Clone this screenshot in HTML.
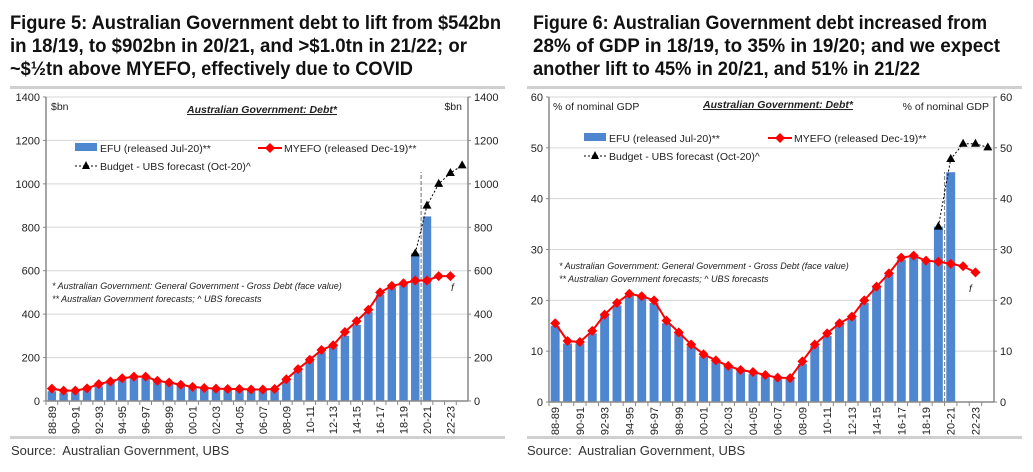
<!DOCTYPE html>
<html><head><meta charset="utf-8">
<style>
body{margin:0;width:1033px;height:472px;background:#fff;overflow:hidden;font-family:"Liberation Sans",sans-serif}
.src{position:absolute;font-size:13px;color:#333}
svg{position:absolute;left:0;top:0}
</style></head><body>
<div class="src" style="left:11px;top:443px">Source:&nbsp; Australian Government, UBS</div>
<div class="src" style="left:527px;top:443px">Source:&nbsp; Australian Government, UBS</div>
<svg id="s" width="1033" height="472" xmlns="http://www.w3.org/2000/svg">
<g font-family="Liberation Sans, sans-serif" font-weight="bold" font-size="19" fill="#111">
<text x="10" y="29" textLength="491" lengthAdjust="spacingAndGlyphs">Figure 5: Australian Government debt to lift from $542bn</text>
<text x="10" y="52" textLength="457" lengthAdjust="spacingAndGlyphs">in 18/19, to $902bn in 20/21, and &gt;$1.0tn in 21/22; or</text>
<text x="10" y="75" textLength="403" lengthAdjust="spacingAndGlyphs">~$½tn above MYEFO, effectively due to COVID</text>
</g>
<g font-family="Liberation Sans, sans-serif" font-weight="bold" font-size="19" fill="#111">
<text x="533" y="29" textLength="454" lengthAdjust="spacingAndGlyphs">Figure 6: Australian Government debt increased from</text>
<text x="533" y="52" textLength="467" lengthAdjust="spacingAndGlyphs">28% of GDP in 18/19, to 35% in 19/20; and we expect</text>
<text x="533" y="75" textLength="387" lengthAdjust="spacingAndGlyphs">another lift to 45% in 20/21, and 51% in 21/22</text>
</g>
</svg>
<script>
const categories=["88-89","89-90","90-91","91-92","92-93","93-94","94-95","95-96","96-97","97-98","98-99","99-00","00-01","01-02","02-03","03-04","04-05","05-06","06-07","07-08","08-09","09-10","10-11","11-12","12-13","13-14","14-15","15-16","16-17","17-18","18-19","19-20","20-21","21-22","22-23","23-24"];
const efuBn=[45,38,40,52,68,85,100,108,105,88,80,70,60,55,52,52,52,50,50,50,95,140,185,225,255,300,350,410,490,520,540,680,850];
const myefoBn=[57,48,48,58,78,90,105,112,112,93,85,75,65,60,57,55,55,53,53,55,100,147,190,235,257,318,368,420,500,530,542,555,555,575,575];
const budgetBn=[680,900,1000,1050,1085];
const efuPct=[15,11.5,11.5,13.5,17,19,21,21,19.5,15.5,13.5,11,9,8,7,6,5.5,5,4.5,4.5,7.5,11,13,15.5,16.5,19.5,22.5,25,28,28.8,27.5,34.5,45.2];
const myefoPct=[15.5,12,11.8,14,17.2,19.5,21.3,20.8,20,16,13.7,11.3,9.4,8.2,7.1,6.3,5.9,5.3,4.8,4.7,8,11.3,13.5,15.5,16.8,20,22.7,25.3,28.4,28.8,27.8,27.6,27.2,26.7,25.5];
const budgetPct=[34.5,47.8,50.8,50.8,50.1];
const leftTicks=[0,200,400,600,800,1000,1200,1400];
const rightTicks=[0,10,20,30,40,50,60];
const budgetStart=31;

const S=document.getElementById('s');const NS='http://www.w3.org/2000/svg';
function el(tag,attrs,parent){const e=document.createElementNS(NS,tag);for(const k in attrs)e.setAttribute(k,attrs[k]);(parent||S).appendChild(e);return e;}
function txt(x,y,s,attrs,parent){const e=el('text',Object.assign({x:x,y:y,'font-size':11,fill:'#222','font-family':'Liberation Sans, sans-serif'},attrs),parent);e.textContent=s;return e;}

function chart(o){
  const g=el('g',{});
  
  
  const n=categories.length,cw=(o.x1-o.x0)/n;
  const X=i=>o.x0+cw*(i+0.5);
  const Y=v=>o.y0-(v/o.max)*(o.y0-o.yT);
  const f1=el('rect',{x:o.fx,y:86,width:495,height:3,fill:'#d0d0d0'},g);
  
  const f2=el('rect',{x:o.fx,y:436,width:495,height:3,fill:'#d0d0d0'},g);
  
  o.ticks.forEach(t=>{
    if(t>0){const l=el('line',{x1:o.x0,x2:o.x1,y1:Y(t),y2:Y(t),stroke:'#d6d6d6','stroke-width':1},g);
      }
    const a=txt(o.x0-6,Y(t)+4,String(t),{'text-anchor':'end'},g);
    
    const b=txt(o.x1+6,Y(t)+4,String(t),{'text-anchor':'start'},g);
    
    el('line',{x1:o.x0-3,x2:o.x0,y1:Y(t),y2:Y(t),stroke:'#888'},g);
    el('line',{x1:o.x1,x2:o.x1+3,y1:Y(t),y2:Y(t),stroke:'#888'},g);
  });
  o.efu.forEach((v,i)=>{const r=el('rect',{x:X(i)-cw*0.36,y:Y(v),width:cw*0.72,height:o.y0-Y(v),fill:'#4f86d0'},g);
    });
  el('line',{x1:o.x0,x2:o.x0,y1:o.yT,y2:o.y0,stroke:'#888','stroke-width':1.5},g);
  el('line',{x1:o.x1,x2:o.x1,y1:o.yT,y2:o.y0,stroke:'#888','stroke-width':1.5},g);
  el('line',{x1:o.x0,x2:o.x1,y1:o.y0,y2:o.y0,stroke:'#888','stroke-width':1.5},g);
  categories.forEach((c,i)=>{
    el('line',{x1:o.x0+cw*i,x2:o.x0+cw*i,y1:o.y0,y2:o.y0+4,stroke:'#888'},g);
    if(i%2===0){const t=txt(0,0,c,{'text-anchor':'end','font-size':11,transform:`translate(${X(i)+4},${o.y0+5}) rotate(-90)`},g);
      }
  });
  const dx=o.x0+cw*(budgetStart+1);
  const dv=el('line',{x1:dx,x2:dx,y1:o.y0,y2:o.divTop,stroke:'#888','stroke-dasharray':'4,2','stroke-width':1.2},g);
  
  const mp=o.myefo.map((v,i)=>X(i)+','+Y(v)).join(' ');
  const ml=el('polyline',{points:mp,fill:'none',stroke:'#ff0000','stroke-width':2},g);
  
  o.myefo.forEach((v,i)=>{const d=el('polygon',{points:`${X(i)},${Y(v)-5} ${X(i)+5},${Y(v)} ${X(i)},${Y(v)+5} ${X(i)-5},${Y(v)}`,fill:'#ff0000'},g);
    });
  const bp=o.budget.map((v,i)=>X(budgetStart+i)+','+Y(v)).join(' ');
  const bl=el('polyline',{points:bp,fill:'none',stroke:'#000','stroke-width':1,'stroke-dasharray':'2,2'},g);
  
  o.budget.forEach((v,i)=>{const x=X(budgetStart+i),y=Y(v);const t=el('polygon',{points:`${x},${y-5} ${x+4.5},${y+3} ${x-4.5},${y+3}`,fill:'#000'},g);
    });
  const u1=txt(o.unitL[0],o.unitL[1],o.unit,{'font-size':10.5},g);
  const u2=txt(o.unitR[0],o.unitR[1],o.unit,{'font-size':10.5,'text-anchor':'end'},g);
  const ct=txt(o.ctx,o.cty,'Australian Government: Debt*',{'font-size':10.5,'font-weight':'bold','font-style':'italic','text-anchor':'middle','text-decoration':'underline'},g);
  
  const L=o.leg;
  el('rect',{x:L.x,y:L.y-5,width:22,height:8,fill:'#4f86d0'},g);
  const l1=txt(L.x+25,L.y+4,'EFU (released Jul-20)**',{'font-size':10.5},g);
  el('line',{x1:L.mx,x2:L.mx+24,y1:L.y,y2:L.y,stroke:'#ff0000','stroke-width':2},g);
  el('polygon',{points:`${L.mx+12},${L.y-5} ${L.mx+17},${L.y} ${L.mx+12},${L.y+5} ${L.mx+7},${L.y}`,fill:'#ff0000'},g);
  const l2=txt(L.mx+26,L.y+4,'MYEFO (released Dec-19)**',{'font-size':10.5},g);
  el('line',{x1:L.x,x2:L.x+22,y1:L.y+18,y2:L.y+18,stroke:'#000','stroke-dasharray':'2,2'},g);
  el('polygon',{points:`${L.x+11},${L.y+13} ${L.x+15},${L.y+21} ${L.x+7},${L.y+21}`,fill:'#000'},g);
  const l3=txt(L.x+25,L.y+22,'Budget - UBS forecast (Oct-20)^',{'font-size':10.5},g);
  const n1=txt(o.note[0],o.note[1],'* Australian Government: General Government - Gross Debt (face value)',{'font-size':9,'font-style':'italic'},g);
  
  const n2=txt(o.note[0],o.note[1]+13,'** Australian Government forecasts; ^ UBS forecasts',{'font-size':9,'font-style':'italic'},g);
  
  const ff=txt(o.f[0],o.f[1],'f',{'font-size':10,'font-style':'italic'},g);
}
chart({name:'debt-bn-chart',fx:10,x0:46,x1:468,y0:401,yT:97,max:1400,ticks:leftTicks,efu:efuBn,myefo:myefoBn,budget:budgetBn,divTop:172,
  unit:'$bn',unitL:[51,110],unitR:[462,110],ctx:262,cty:113,leg:{x:75,y:148,mx:258},note:[52,289],f:[451,291]});
chart({name:'debt-pct-gdp-chart',fx:527,x0:549,x1:994,y0:402,yT:97,max:60,ticks:rightTicks,efu:efuPct,myefo:myefoPct,budget:budgetPct,divTop:172,
  unit:'% of nominal GDP',unitL:[553,110],unitR:[989,110],ctx:778,cty:108,leg:{x:584,y:138,mx:768},note:[559,269],f:[969,292]});
</script>
</body></html>
